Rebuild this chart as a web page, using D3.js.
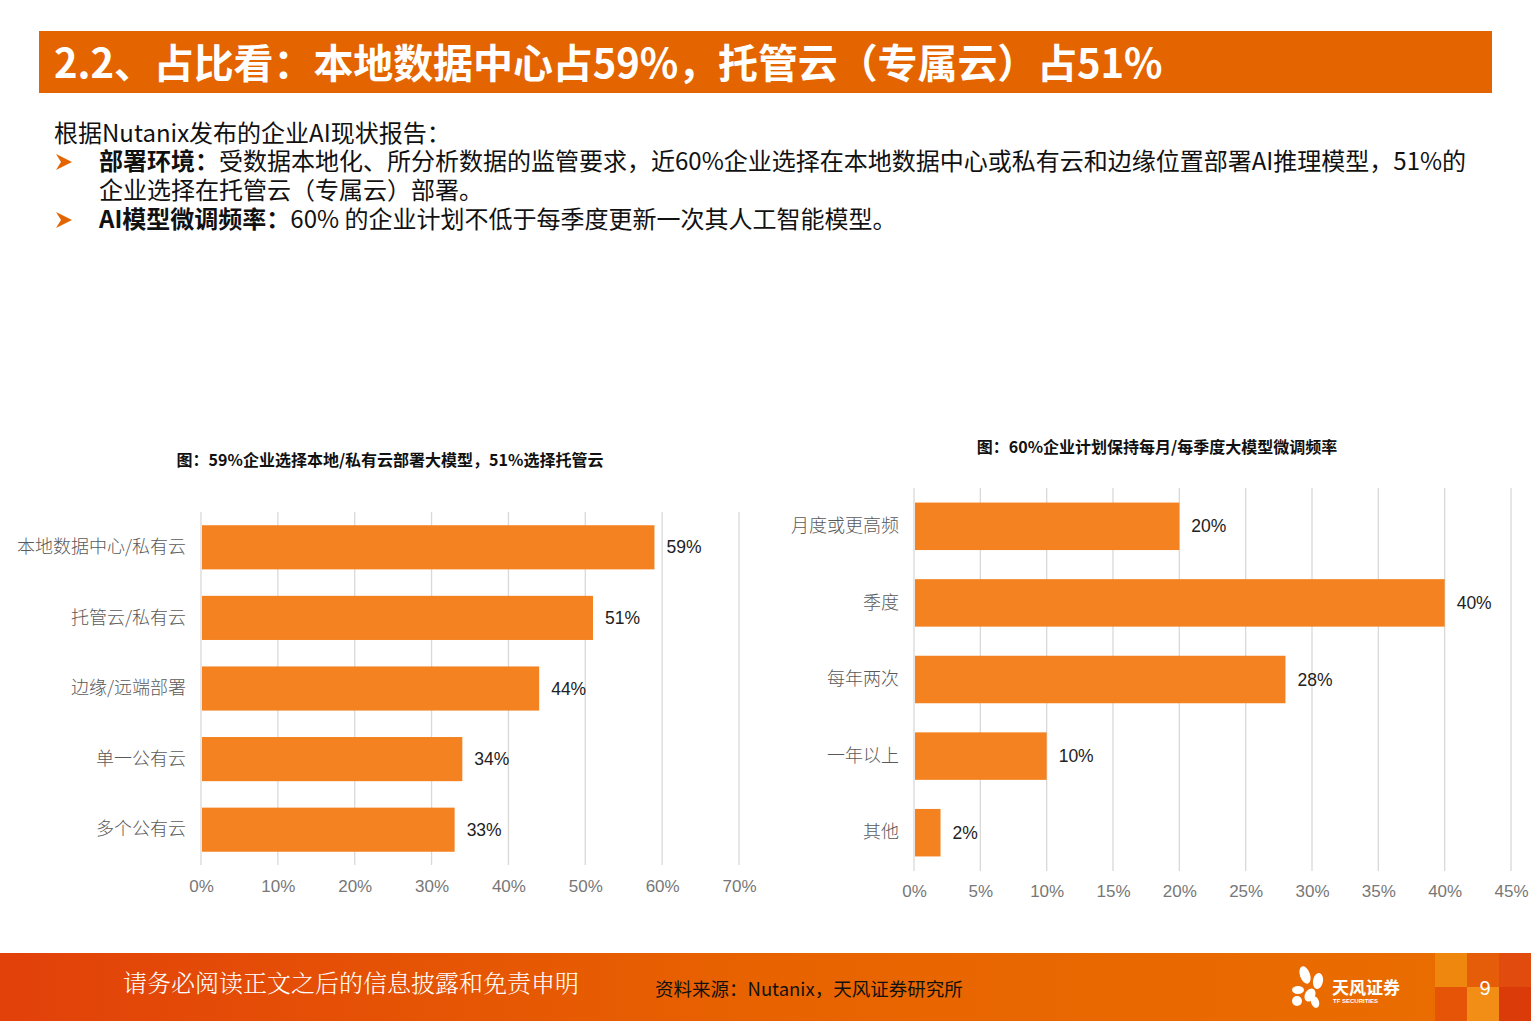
<!DOCTYPE html>
<html><head><meta charset="utf-8">
<script src="https://cdn.jsdelivr.net/npm/d3@7"></script>
<style>
html,body{margin:0;padding:0;background:#fff;}
svg{display:block;font-family:"Noto Sans CJK SC","Noto Sans",sans-serif;}
</style></head>
<body>
<svg id="c" width="1531" height="1021"></svg>
<script>
// ---- data ----
const leftCategories = ["本地数据中心/私有云","托管云/私有云","边缘/远端部署","单一公有云","多个公有云"];
const leftValues = [59, 51, 44, 34, 33];
const leftTicks = [0,10,20,30,40,50,60,70];
const rightCategories = ["月度或更高频","季度","每年两次","一年以上","其他"];
const rightValues = [20, 40, 28, 10, 2];
const rightTicks = [0,5,10,15,20,25,30,35,40,45];
const headerTitle = "2.2、占比看：本地数据中心占59%，托管云（专属云）占51%";
const leftTitle = "图：59%企业选择本地/私有云部署大模型，51%选择托管云";
const rightTitle = "图：60%企业计划保持每月/每季度大模型微调频率";
const sourceText = "资料来源：Nutanix，天风证券研究所";
const disclaimer = "请务必阅读正文之后的信息披露和免责申明";

const svg = d3.select("#c");
const BAR = "#F58220", GRID = "#D9D9D9", CAT = "#595959", NUM = "#222";
const numFont = "'Liberation Sans Narrow','Liberation Sans',Arial,sans-serif";

// ---- header ----
svg.append("rect").attr("x",39).attr("y",31).attr("width",1453).attr("height",62).attr("fill","#E46500");
svg.append("text").attr("x",54).attr("y",78).attr("fill","#fff").attr("font-size",40).attr("font-weight",700)
  .attr("letter-spacing","-0.1").text(headerTitle);

// ---- body text ----
const bodyFs = 24;
svg.append("text").attr("x",54).attr("y",142).attr("font-size",bodyFs).attr("fill","#111").text("根据Nutanix发布的企业AI现状报告：");
function bullet(y){
  svg.append("path").attr("d",`M56,${y-16} L72,${y-8} L56,${y} L61,${y-8} Z`).attr("fill","#E46500");
}
bullet(170);
const l2 = svg.append("text").attr("x",99).attr("y",170).attr("font-size",bodyFs).attr("fill","#111");
l2.append("tspan").attr("font-weight",700).text("部署环境：");
l2.append("tspan").text("受数据本地化、所分析数据的监管要求，近60%企业选择在本地数据中心或私有云和边缘位置部署AI推理模型，51%的");
svg.append("text").attr("x",99).attr("y",199).attr("font-size",bodyFs).attr("fill","#111").text("企业选择在托管云（专属云）部署。");
bullet(228);
const l4 = svg.append("text").attr("x",99).attr("y",228).attr("font-size",bodyFs).attr("fill","#111");
l4.append("tspan").attr("font-weight",700).text("AI模型微调频率：");
l4.append("tspan").text("60% 的企业计划不低于每季度更新一次其人工智能模型。");

// ---- chart helper ----
function barChart(o){
  const g = svg.append("g");
  const x = d3.scaleLinear().domain([0,o.max]).range([o.x0,o.x1]);
  const y = d3.scaleBand().domain(o.cats).range([o.y0,o.y1]).paddingInner(o.pad).paddingOuter(o.pad/2);
  // title
  g.append("text").attr("x",o.tx).attr("y",o.ty).attr("text-anchor","middle").attr("font-size",16)
    .attr("font-weight",700).attr("fill","#111").text(o.title);
  // gridlines
  g.selectAll("line.grid").data(o.ticks).join("line")
    .attr("x1",d=>x(d)).attr("x2",d=>x(d)).attr("y1",o.y0).attr("y2",o.y1)
    .attr("stroke",GRID).attr("stroke-width",1.3);
  // bars
  g.selectAll("rect.bar").data(o.vals).join("rect")
    .attr("x",x(0)+1).attr("y",(d,i)=>y(o.cats[i]))
    .attr("width",d=>x(d)-x(0)-1).attr("height",y.bandwidth()).attr("fill",BAR);
  // value labels
  g.selectAll("text.val").data(o.vals).join("text")
    .attr("x",d=>x(d)+12).attr("y",(d,i)=>y(o.cats[i])+y.bandwidth()/2)
    .attr("dy","0.35em").attr("font-size",17.5).attr("font-family",numFont).attr("fill",NUM)
    .text(d=>d+"%");
  // category labels (axis)
  const ax = d3.axisLeft(y).tickSize(0).tickPadding(15);
  const ga = g.append("g").attr("transform",`translate(${o.x0},0)`).call(ax);
  ga.select(".domain").remove();
  ga.selectAll("text").attr("font-size",18).attr("fill",CAT).attr("font-family","'Noto Sans CJK SC',sans-serif").attr("font-weight",300);
  // x axis tick labels
  const bx = d3.axisBottom(x).tickValues(o.ticks).tickFormat(d=>d+"%").tickSize(0).tickPadding(0);
  const gb = g.append("g").attr("transform",`translate(0,${o.tly})`).call(bx);
  gb.select(".domain").remove();
  gb.selectAll("text").attr("font-size",17).attr("fill","#777").attr("font-family",numFont).attr("dy","0.35em");
}

barChart({cats:leftCategories, vals:leftValues, ticks:leftTicks, max:70,
  x0:201, x1:739, y0:512, y1:865, pad:0.375, title:leftTitle, tx:390, ty:466, tly:886});
barChart({cats:rightCategories, vals:rightValues, ticks:rightTicks, max:45,
  x0:914, x1:1511, y0:488, y1:871, pad:0.38, title:rightTitle, tx:1157, ty:453, tly:891});

// ---- footer ----
const defs = svg.append("defs");
const lg = defs.append("linearGradient").attr("id","fg").attr("x1","0").attr("x2","1");
lg.append("stop").attr("offset","0").attr("stop-color","#E2410A");
lg.append("stop").attr("offset","0.5").attr("stop-color","#E86300");
lg.append("stop").attr("offset","1").attr("stop-color","#EA6E00");
svg.append("rect").attr("x",0).attr("y",953).attr("width",1531).attr("height",68).attr("fill","url(#fg)");
// squares
const sq = [[1435,953,"#F08A10"],[1467,953,"#E45A0A"],[1499,953,"#E04810"],
            [1435,987,"#E65208"],[1467,987,"#F39018"],[1499,987,"#D8350A"]];
svg.selectAll("rect.sq").data(sq).join("rect").attr("x",d=>d[0]).attr("y",d=>d[1]).attr("width",32).attr("height",34).attr("fill",d=>d[2]).attr("opacity",0.9);
svg.append("text").attr("x",123).attr("y",992).attr("font-size",24).attr("fill","#fff")
  .attr("font-family","'Noto Serif CJK SC','Noto Sans CJK SC',serif").attr("font-weight",300).text(disclaimer);
svg.append("text").attr("x",655).attr("y",996).attr("font-size",18.5).attr("fill","#111").text(sourceText);
svg.append("text").attr("x",1485).attr("y",995).attr("text-anchor","middle").attr("font-size",20).attr("fill","#fff").attr("font-family",numFont).text("9");
// logo
const lgG = svg.append("g").attr("fill","#fff");
[[1305,975,5,9,-20],[1318,981,5,8,10],[1298,990,6,4,0],[1310,995,5,7,30],[1297,1001,5,5,0],[1315,1002,4,6,-20]].forEach(p=>{
  lgG.append("ellipse").attr("cx",p[0]).attr("cy",p[1]).attr("rx",p[2]).attr("ry",p[3]).attr("transform",`rotate(${p[4]},${p[0]},${p[1]})`);
});
svg.append("text").attr("x",1332).attr("y",994).attr("font-size",17).attr("font-weight",700).attr("fill","#fff").text("天风证券");
svg.append("text").attr("x",1333).attr("y",1003).attr("font-size",6).attr("font-weight",700).attr("fill","#fff").attr("font-family",numFont).text("TF SECURITIES");
</script>
</body></html>
